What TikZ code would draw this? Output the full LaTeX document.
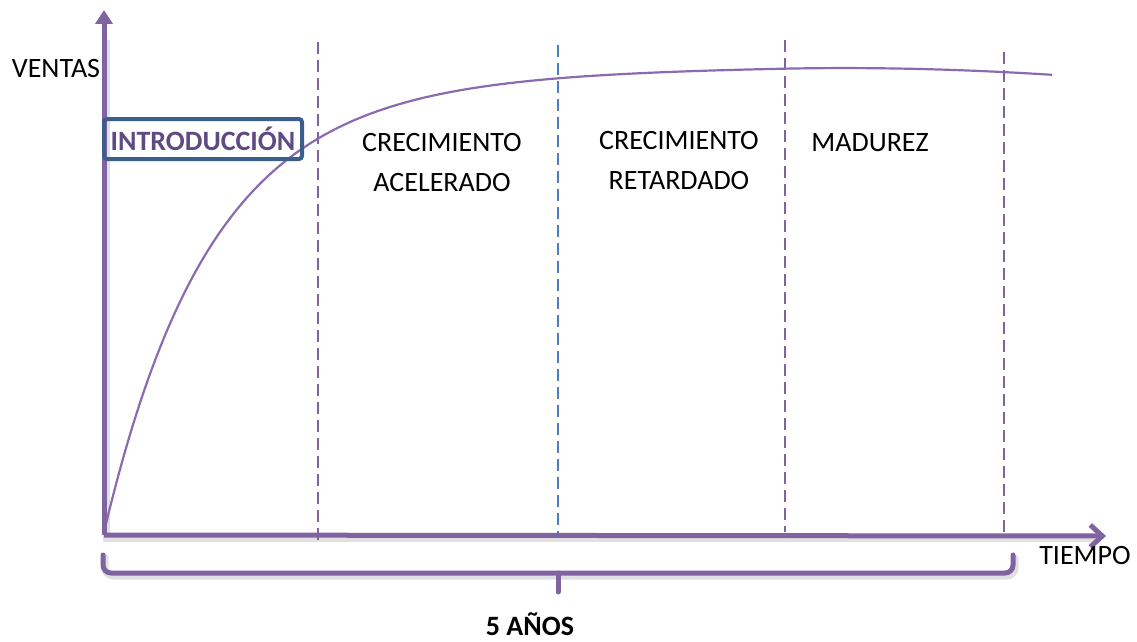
\documentclass[tikz,border=0pt]{standalone}
\usepackage{fontspec}
\setmainfont{Carlito}
\usetikzlibrary{arrows.meta}
\definecolor{axpurple}{HTML}{8064A2}
\definecolor{curvepurple}{HTML}{8B6BB0}
\definecolor{boxblue}{HTML}{3A5F8B}
\definecolor{introtxt}{HTML}{5F4A82}
\definecolor{dashblue}{HTML}{4A7EC2}
\tikzset{
  axis/.style={line width=5pt, draw=axpurple},
  axshadow/.style={line width=7pt, draw=black!12},
  divider/.style={line width=1.5pt, draw=axpurple, dash pattern=on 12pt off 6pt},
  lbl/.style={font=\fontsize{28}{40}\selectfont, text=black, align=center, inner sep=0pt},
}
\begin{document}
\begin{tikzpicture}[x=1pt,y=-1pt]
\useasboundingbox (0,0) rectangle (1137,642);
% coordinates
\coordinate (O) at (104,535);
\coordinate (Ytop) at (104,10);
\coordinate (Xend) at (1106,536);
% shadows
\draw[axshadow] (106,40) -- (106,538) -- (1095,538);
\draw[line width=7pt, draw=black!12, line cap=round, rounded corners=8pt] (105,557) -- (105,576) -- (1015,576) -- (1015,558);
% dividers
\coordinate (d1t) at (318,42); \coordinate (d1b) at (318,540);
\coordinate (d2t) at (558,45); \coordinate (d2b) at (558,534);
\coordinate (d3t) at (785,40); \coordinate (d3b) at (785,532);
\coordinate (d4t) at (1004,52); \coordinate (d4b) at (1004,535);
\draw[divider] (d1t) -- (d1b);
\draw[divider, draw=dashblue] (d2t) -- (d2b);
\draw[divider] (d3t) -- (d3b);
\draw[divider] (d4t) -- (d4b);
% curve
\draw[line width=2.2pt, draw=curvepurple, line join=round] plot[domain=0:947, samples=240, variable=\t]
  ({105+\t}, {528 - (430*(1-exp(-\t/105)) + 35*(1-exp(-\t/350)) - (0.0115*max(0,\t-680))^2)});
% axes
\draw[axis, -{Triangle[length=14pt,width=17pt]}] (O) -- (Ytop);
\draw[axis, -{Straight Barb[length=12pt,width=22pt,line width=5pt]}] (O) -- (Xend);
% brace
\draw[line width=5pt, draw=axpurple, line cap=round, rounded corners=8pt] (103,555) -- (103,573) -- (1013,573) -- (1013,555);
\coordinate (bc) at (558,573);
\coordinate (bt) at (558,592);
\draw[line width=5pt, draw=axpurple, line cap=round] (bc) -- (bt);
% labels
\node[lbl] (ventas) at (56,69) {VENTAS};
\node[lbl] (tiempo) at (1085,556) {TIEMPO};
\node[lbl, font=\fontsize{28}{40}\selectfont\bfseries] (anos) at (530,624) {5 AÑOS};
\node[draw=boxblue, line width=4pt, rounded corners=3pt, minimum width=198pt, minimum height=40pt, inner sep=0pt,
      font=\fontsize{28}{40}\selectfont\bfseries, text=introtxt] (intro) at (203,139) {INTRODUCCIÓN};
\node[lbl] (acel) at (442,163) {CRECIMIENTO\\ACELERADO};
\node[lbl] (ret) at (679,161) {CRECIMIENTO\\RETARDADO};
\node[lbl] (mad) at (870,143) {MADUREZ};
\end{tikzpicture}
\end{document}
